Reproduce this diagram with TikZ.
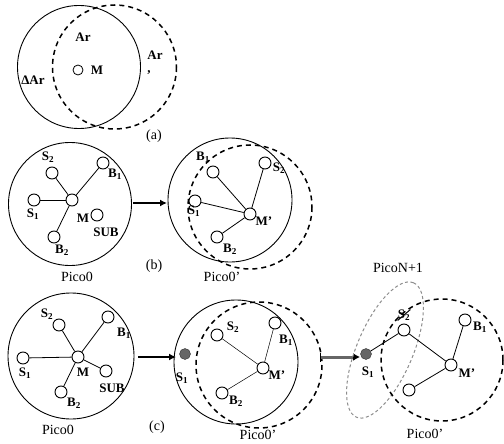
\documentclass[tikz,border=0pt]{standalone}
\usepackage{fontspec}
\setmainfont{Liberation Serif}
\usetikzlibrary{arrows.meta}
\newcommand\ix[2]{#1\textsubscript{#2}}
\begin{document}
\begin{tikzpicture}[x=1pt,y=-1pt,
  area/.style={line width=0.9pt},
  shiftarea/.style={line width=1.5pt, dash pattern=on 5pt off 4pt},
  dev/.style={circle, draw, line width=0.9pt, fill=white, minimum size=12pt, inner sep=0pt},
  gone/.style={circle, draw=black!80, fill=black!60, minimum size=11pt, inner sep=0pt},
  link/.style={line width=0.8pt},
  thinlink/.style={line width=0.5pt},
  lab/.style={font=\bfseries\fontsize{13}{13}\selectfont, inner sep=0pt},
  captxt/.style={font=\fontsize{14}{14}\selectfont, inner sep=0pt},
  move/.style={line width=2pt, -{Latex[length=7pt,width=7pt]}},
]
\useasboundingbox (0,0) rectangle (504,444);

% ---------- (a) coverage shift ----------
\draw[area] (79,67) circle[radius=61.5];
\draw[shiftarea] (114.5,67) circle[radius=62];
\node[circle, draw, line width=0.8pt, minimum size=10pt, inner sep=0pt] (am) at (78,70) {};
\node[lab] (amlab) at (97,70) {M};
\node[lab] (ar1) at (83,37) {Ar};
\node[lab, align=left] (ar2) at (155,63) {Ar\\,};
\node[lab] (dar) at (33,80) {ΔAr};
\node[captxt] (capa) at (154,136) {(a)};

% ---------- (b) left: Pico0 ----------
\draw[area] (70,204) circle[radius=61.5];
\node[dev] (bM) at (72,200) {};
\node[dev] (bS2) at (52,173) {};
\node[dev] (bB1) at (103,163) {};
\node[dev] (bS1) at (34,200) {};
\node[dev] (bSUB) at (97,215) {};
\node[dev] (bB2) at (54,237) {};
\draw[link] (bM) -- (bS2);
\draw[link] (bM) -- (bB1);
\draw[link] (bM) -- (bS1);
\draw[link] (bM) -- (bB2);
\node[lab] at (48,157) {\ix{S}{2}};
\node[lab] at (115,174) {\ix{B}{1}};
\node[lab] at (33,214) {\ix{S}{1}};
\node[lab] at (83,218) {M};
\node[lab] at (106,232) {SUB};
\node[lab] at (62,250) {\ix{B}{2}};
\node[captxt] (picob1) at (77,277) {Pico0};
\node[captxt] (capb) at (154,266) {(b)};

% ---------- (b) right: Pico0' ----------
\coordinate (barr1) at (133,203);
\coordinate (barr2) at (167,203);
\draw[move] (barr1) -- (barr2);
\draw[area] (230,200) circle[radius=62];
\draw[shiftarea] (250,207) circle[radius=62];
\node[dev] (rM) at (250,214) {};
\node[dev] (rB1) at (213,172) {};
\node[dev] (rS2) at (265,163) {};
\node[dev] (rS1) at (195,201) {};
\node[dev] (rB2) at (217,237) {};
\draw[link] (rM) -- (rB1);
\draw[link] (rM) -- (rS2);
\draw[link] (rM) -- (rS1);
\draw[link] (rM) -- (rB2);
\node[lab] at (203,157) {\ix{B}{1}};
\node[lab] at (279,168) {\ix{S}{2}};
\node[lab] at (194,211) {\ix{S}{1}};
\node[lab] at (264,221) {M'};
\node[lab] at (230,249) {\ix{B}{2}};
\node[captxt] (picob2) at (222,277) {Pico0'};

% ---------- (c) left: Pico0 ----------
\draw[area] (71,356) circle[radius=63];
\node[dev] (cM) at (78,357) {};
\node[dev] (cS2) at (59,325) {};
\node[dev] (cB1) at (108,317) {};
\node[dev] (cS1) at (23,358) {};
\node[dev] (cSUB) at (106,371) {};
\node[dev] (cB2) at (61,392) {};
\draw[link] (cM) -- (cS2);
\draw[link] (cM) -- (cB1);
\draw[link] (cM) -- (cS1);
\draw[link] (cM) -- (cSUB);
\draw[link] (cM) -- (cB2);
\node[lab] at (47,314) {\ix{S}{2}};
\node[lab] at (124,333) {\ix{B}{1}};
\node[lab] at (25,373) {\ix{S}{1}};
\node[lab] at (83,372) {M};
\node[lab] at (112,388) {SUB};
\node[lab] at (74,403) {\ix{B}{2}};
\node[captxt] (picoc1) at (58,430) {Pico0};
\node[captxt] (capc) at (157,427) {(c)};

% ---------- (c) middle: S1 has left ----------
\coordinate (carr1) at (138,357);
\coordinate (carr2) at (176,357);
\draw[move] (carr1) -- (carr2);
\draw[area] (236,362) circle[radius=62];
\draw[shiftarea] (259,365) circle[radius=63];
\node[gone] (mS1) at (185,354) {};
\node[dev] (mM) at (263,368) {};
\node[dev] (mS2) at (217,335) {};
\node[dev] (mB1) at (275,323) {};
\node[dev] (mB2) at (222,393) {};
\draw[thinlink] (mM) -- (mS2);
\draw[thinlink] (mM) -- (mB1);
\draw[thinlink] (mM) -- (mB2);
\node[lab] at (182,378) {\ix{S}{1}};
\node[lab] at (233,327) {\ix{S}{2}};
\node[lab] at (286,340) {\ix{B}{1}};
\node[lab] at (277,375) {M'};
\node[lab] at (236,401) {\ix{B}{2}};
\node[captxt] (picoc2) at (258,435) {Pico0'};

% ---------- (c) right: new piconet PicoN+1 ----------
\coordinate (darr1) at (320,357);
\coordinate (darr2) at (360,357);
\draw[line width=3pt, black!60, {Bar[width=9pt,black,line width=1pt]}-{Latex[length=7pt,width=8pt,black]}] (darr1) -- (darr2);
\draw[black!45, line width=1pt, dash pattern=on 3pt off 2.5pt, rotate around={67:(385,350)}] (385,350) ellipse [x radius=73, y radius=28];
\draw[shiftarea] (442,360) circle[radius=61];
\node[gone] (nS1) at (366,354) {};
\node[dev] (nS2) at (404,330) {};
\node[dev] (nB1) at (465,320) {};
\node[dev] (nM) at (451,365) {};
\node[dev] (nB2) at (409,390) {};
\draw[link] (nS1) -- (nS2);
\draw[link] (nS2) -- (nM);
\draw[link] (nB1) -- (nM);
\draw[link] (nM) -- (nB2);
\node[lab] at (368,372) {\ix{S}{1}};
\node[lab] (nS2lab) at (404,315) {\ix{S}{2}};
\draw[line width=1pt] (nS2lab.south west) -- (nS2lab.north east);
\node[lab] at (480,327) {\ix{B}{1}};
\node[lab] at (467,373) {M'};
\node[captxt] (picon) at (398,268) {PicoN+1};
\node[captxt] (picoc3) at (425,434) {Pico0'};
\end{tikzpicture}
\end{document}
